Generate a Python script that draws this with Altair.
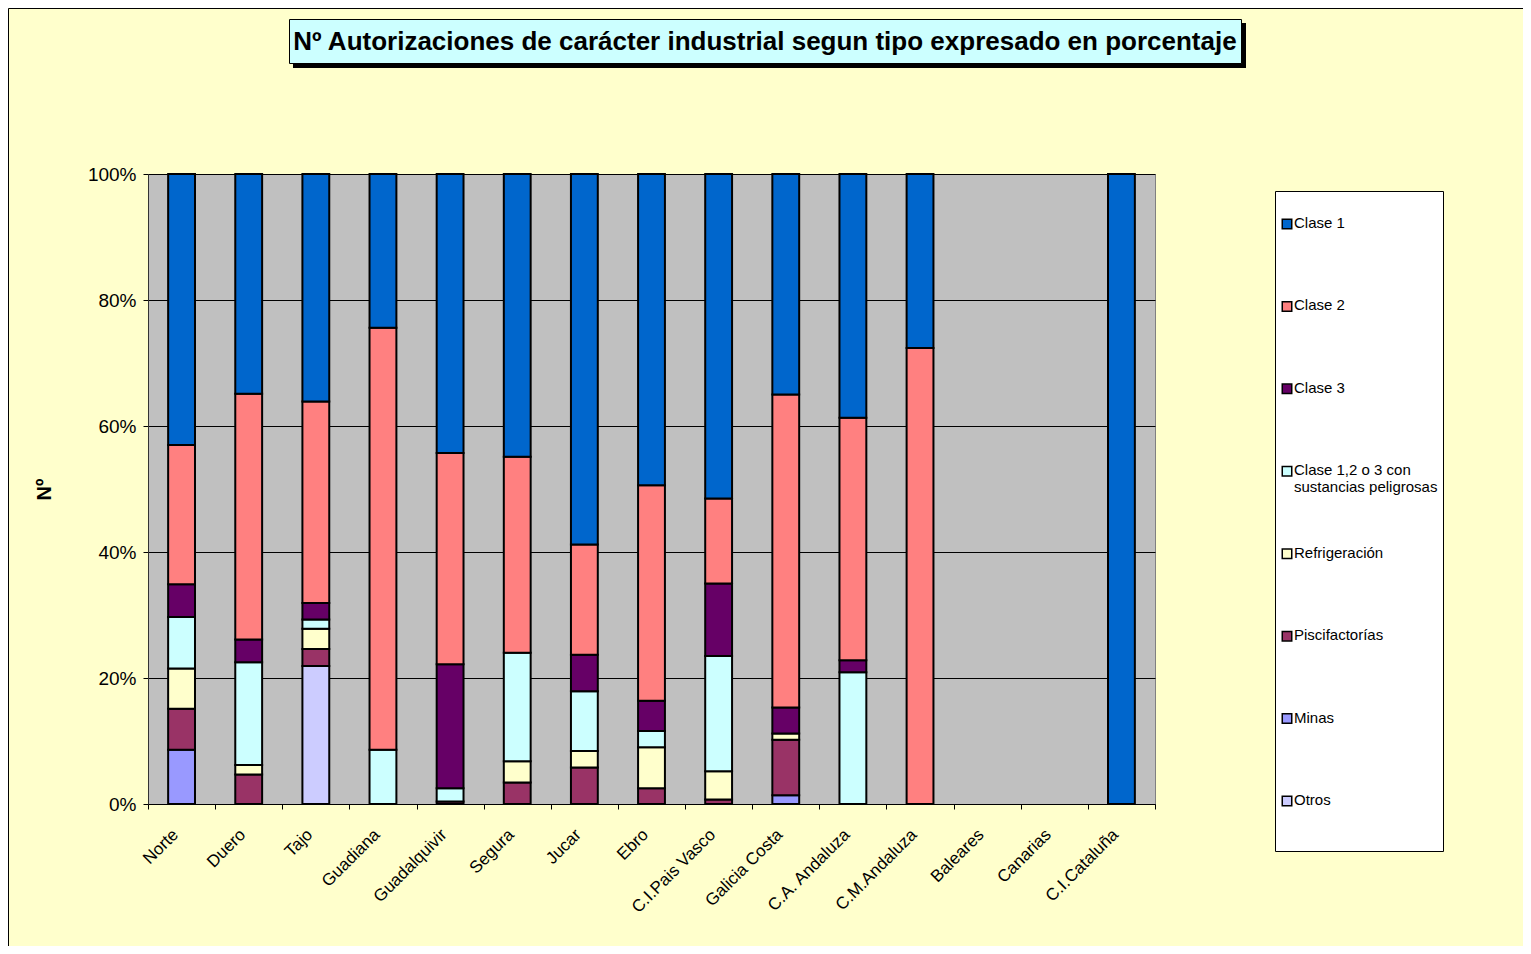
import altair as alt
import pandas as pd

# ---------------- data ----------------
regions = ["Norte", "Duero", "Tajo", "Guadiana", "Guadalquivir", "Segura", "Jucar",
           "Ebro", "C.I.Pais Vasco", "Galicia Costa", "C.A. Andaluza", "C.M.Andaluza",
           "Baleares", "Canarias", "C.I.Cataluña"]

# stacking order: first = bottom
series_names = ["Otros", "Minas", "Piscifactorías", "Refrigeración",
                "Clase 1,2 o 3 con sustancias peligrosas", "Clase 3", "Clase 2", "Clase 1"]

otros         = [0, 0, 21.9, 0, 0, 0, 0, 0, 0, 0, 0, 0, 0, 0, 0]
minas         = [8.6, 0, 0, 0, 0, 0, 0, 0, 0, 1.4, 0, 0, 0, 0, 0]
piscifact     = [6.5, 4.7, 2.7, 0, 0.4, 3.4, 5.8, 2.5, 0.7, 8.8, 0, 0, 0, 0, 0]
refrigeracion = [6.4, 1.5, 3.2, 0, 0, 3.4, 2.6, 6.5, 4.5, 1.0, 0, 0, 0, 0, 0]
sustancias    = [8.2, 16.3, 1.5, 8.6, 2.1, 17.2, 9.5, 2.6, 18.3, 0, 20.9, 0, 0, 0, 0]
clase3        = [5.2, 3.6, 2.6, 0, 19.7, 0, 5.8, 4.8, 11.5, 4.1, 1.9, 0, 0, 0, 0]
clase2        = [22.1, 39.0, 32.0, 67.0, 33.5, 31.1, 17.5, 34.2, 13.5, 49.7, 38.5, 72.4, 0, 0, 0]
clase1        = [43.0, 34.9, 36.1, 24.4, 44.3, 44.9, 58.8, 49.4, 51.5, 35.0, 38.7, 27.6, 0, 0, 100]

series_values = [otros, minas, piscifact, refrigeracion, sustancias, clase3, clase2, clase1]
series_colors = ["#CCCCFF", "#9999FF", "#993366", "#FFFFCC",
                 "#CCFFFF", "#660066", "#FF8080", "#0066CC"]

# legend order (top to bottom) and label texts
legend_order = ["Clase 1", "Clase 2", "Clase 3", "Clase 1,2 o 3 con sustancias peligrosas",
                "Refrigeración", "Piscifactorías", "Minas", "Otros"]
legend_labels = ["\u00a0Clase 1", "\u00a0Clase 2", "\u00a0Clase 3",
                 "\u00a0Clase 1,2 o 3 con\nsustancias peligrosas",
                 "Refrigeración", "Piscifactorías", "Minas", "Otros"]

y_ticks = [0, 20, 40, 60, 80, 100]
title_text = "Nº Autorizaciones de carácter industrial segun  tipo expresado en porcentaje"

rows = []
for k, (name, vals) in enumerate(zip(series_names, series_values)):
    for r, v in zip(regions, vals):
        if v > 0:
            rows.append({"region": r, "serie": name, "valor": v, "ord": k})
df = pd.DataFrame(rows)

legend_df = pd.DataFrame({"serie": legend_order, "label": legend_labels})

FONT = "Liberation Sans"
W, H = 1007, 630

color_scale = alt.Scale(domain=series_names, range=series_colors)

# ---------------- decorations ----------------
one = pd.DataFrame({"t": [title_text]})

outer = alt.Chart(one).mark_rect(fillOpacity=0, stroke="#000000", strokeWidth=1).encode(
    x=alt.value(-139.5), x2=alt.value(1500), y=alt.value(-165.5), y2=alt.value(900))

title_shadow = alt.Chart(one).mark_rect(fill="#000000").encode(
    x=alt.value(145), x2=alt.value(1098), y=alt.value(-151), y2=alt.value(-106))
title_box = alt.Chart(one).mark_rect(fill="#CCFFFF", stroke="#000000", strokeWidth=1).encode(
    x=alt.value(141.5), x2=alt.value(1093.5), y=alt.value(-154.5), y2=alt.value(-110.5))
title_txt = alt.Chart(one).mark_text(font=FONT, fontSize=26, fontWeight="bold",
                                     color="#000000", align="center", baseline="middle").encode(
    text="t:N", x=alt.value(617), y=alt.value(-132))

legend_box = alt.Chart(one).mark_rect(fill="#FFFFFF", stroke="#000000", strokeWidth=1).encode(
    x=alt.value(1127.5), x2=alt.value(1295.5), y=alt.value(17.5), y2=alt.value(677.5))

# ---------------- bars ----------------
bars = alt.Chart(df).mark_bar(
    width=alt.RelativeBandSize(0.4), stroke="#000000", strokeWidth=2
).encode(
    x=alt.X("region:N", sort=regions,
            scale=alt.Scale(domain=regions, paddingInner=0, paddingOuter=0),
            axis=alt.Axis(title=None, labelAngle=-45, labelFontSize=17, labelFont=FONT,
                          labelColor="#000000", tickBand="extent", tickSize=5,
                          tickColor="#000000", domainColor="#000000", labelPadding=17,
                          labelOffset=-12, grid=False)),
    y=alt.Y("valor:Q", stack=True,
            scale=alt.Scale(domain=[0, 100], nice=False),
            axis=alt.Axis(values=y_ticks, labelExpr="datum.value + '%'", labelFontSize=19,
                          labelFont=FONT, labelColor="#000000", tickSize=5,
                          tickColor="#000000", domainColor="#333333", labelPadding=7,
                          grid=True, gridColor="#000000", gridOpacity=1, gridWidth=1,
                          title="Nº", titleFont=FONT, titleFontSize=20, titleFontWeight="bold",
                          titleColor="#000000", titleX=-104, titleY=315,
                          titleBaseline="middle")),
    color=alt.Color("serie:N", scale=color_scale, legend=None),
    order=alt.Order("ord:Q", sort="ascending"),
)

# ---------------- legend (drawn from legend data) ----------------
leg_y = alt.Y("serie:N", sort=legend_order,
              scale=alt.Scale(domain=legend_order, range=[50, 627], padding=0),
              axis=None)

leg_sym = alt.Chart(legend_df).mark_square(size=90, stroke="#000000", strokeWidth=1.5,
                                            opacity=1).encode(
    x=alt.value(1139), y=leg_y,
    color=alt.Color("serie:N", scale=color_scale, legend=None))

leg_txt = alt.Chart(legend_df).mark_text(font=FONT, fontSize=15, color="#000000",
                                         align="left", baseline="top", dy=-8,
                                         lineBreak="\n", lineHeight=17).encode(
    x=alt.value(1146), y=leg_y, text="label:N")

chart = alt.layer(
    outer, title_shadow, title_box, title_txt, legend_box, bars, leg_sym, leg_txt
).resolve_scale(y="independent").properties(
    width=W, height=H,
    autosize=alt.AutoSizeParams(type="none"),
    padding={"left": 140, "top": 166, "right": 368, "bottom": 142},
    background="#FFFFCC",
).configure_view(fill="#C0C0C0", stroke="#808080", strokeWidth=1)

chart.save("out.html", embed_options={"renderer": "svg", "actions": False})
